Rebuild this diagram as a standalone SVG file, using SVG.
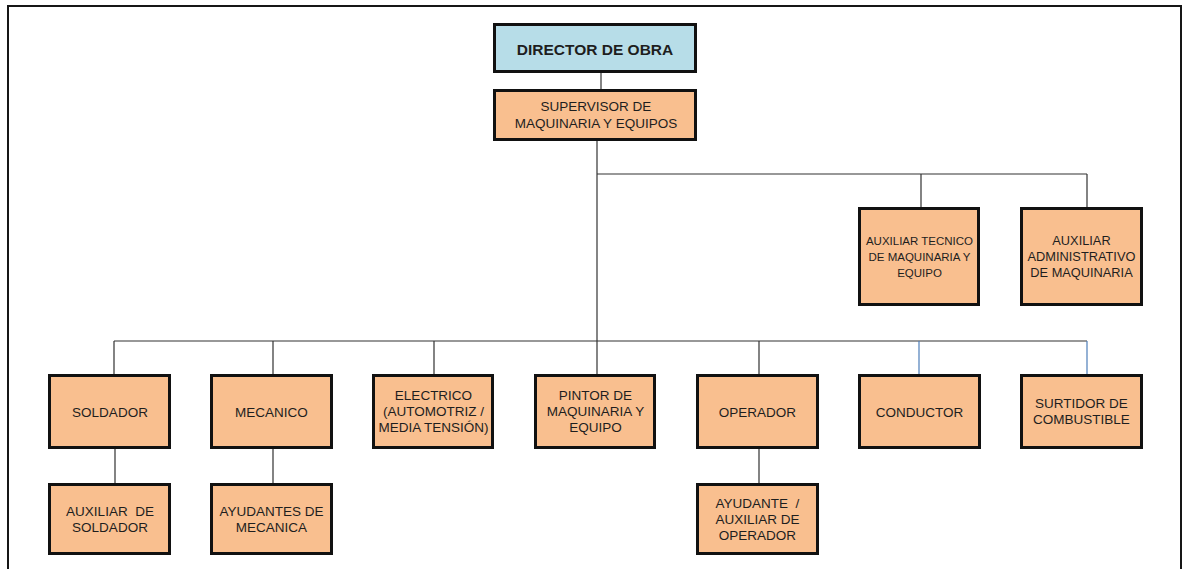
<svg xmlns="http://www.w3.org/2000/svg" width="1183" height="569" viewBox="0 0 1183 569">
  <style>
    .box { fill: #F9BF8F; stroke: #111; stroke-width: 3; }
    .head { fill: #B7DDE8; stroke: #111; stroke-width: 3; }
    .lbl { font-family: "Liberation Sans", Arial, sans-serif; font-size: 13.5px; fill: #1e1e1e; text-anchor: middle; }
    .sm { font-size: 11.5px; }
    .md { font-size: 12.8px; }
    .bold { font-weight: bold; font-size: 15.5px; }
    .ln { stroke: #333; stroke-width: 1.2; fill: none; }
    .blue { stroke: #4F7FBA; stroke-width: 1.2; fill: none; }
  </style>

  <rect width="1183" height="569" fill="#fff"/>
  <!-- page frame -->
  <path d="M8,569 V6 H1181 V569" fill="none" stroke="#161616" stroke-width="2"/>

  <g id="connectors">
    <path class="ln" d="M601,73 V89"/>
    <path class="ln" d="M597,141 V374"/>
    <path class="ln" d="M597,174 H1087 M921,174 V207 M1087,174 V207"/>
    <path class="ln" d="M114,341 H1087 M114,341 V374 M273,341 V374 M434,341 V374 M759,341 V374"/>
    <path class="blue" d="M919,341 V374 M1087,341 V374"/>
    <path class="ln" d="M115,449 V483 M273,449 V483 M759,449 V483"/>
  </g>

  <g id="director">
    <rect class="head" x="494.5" y="24.5" width="201" height="47"/>
    <text class="lbl bold" x="595" y="54.5">DIRECTOR DE OBRA</text>
  </g>
  <g id="supervisor">
    <rect class="box" x="494.5" y="90.5" width="201" height="49"/>
    <text class="lbl" x="596" y="111">SUPERVISOR DE</text>
    <text class="lbl" x="596" y="127.5">MAQUINARIA Y EQUIPOS</text>
  </g>
  <g id="aux-tecnico">
    <rect class="box" x="859.5" y="208.5" width="119" height="96"/>
    <text class="lbl sm" x="919.5" y="245">AUXILIAR TECNICO</text>
    <text class="lbl sm" x="919.5" y="261">DE MAQUINARIA Y</text>
    <text class="lbl sm" x="919.5" y="277">EQUIPO</text>
  </g>
  <g id="aux-administrativo">
    <rect class="box" x="1021.5" y="208.5" width="120" height="96"/>
    <text class="lbl md" x="1081.5" y="244.5">AUXILIAR</text>
    <text class="lbl md" x="1081.5" y="260.5">ADMINISTRATIVO</text>
    <text class="lbl md" x="1081.5" y="276.5">DE MAQUINARIA</text>
  </g>

  <g id="soldador">
    <rect class="box" x="49.5" y="375.5" width="120" height="72"/>
    <text class="lbl" x="110" y="416.5">SOLDADOR</text>
  </g>
  <g id="mecanico">
    <rect class="box" x="211.5" y="375.5" width="120" height="72"/>
    <text class="lbl" x="271.5" y="416.5">MECANICO</text>
  </g>
  <g id="electrico">
    <rect class="box" x="373.5" y="375.5" width="119" height="72"/>
    <text class="lbl" x="433.5" y="400">ELECTRICO</text>
    <text class="lbl" x="433.5" y="416">(AUTOMOTRIZ /</text>
    <text class="lbl" x="433.5" y="432">MEDIA TENSIÓN)</text>
  </g>
  <g id="pintor">
    <rect class="box" x="535.5" y="375.5" width="119" height="72"/>
    <text class="lbl" x="595.5" y="400">PINTOR DE</text>
    <text class="lbl" x="595.5" y="416">MAQUINARIA Y</text>
    <text class="lbl" x="595.5" y="432">EQUIPO</text>
  </g>
  <g id="operador">
    <rect class="box" x="697.5" y="375.5" width="120" height="72"/>
    <text class="lbl" x="757.5" y="416.5">OPERADOR</text>
  </g>
  <g id="conductor">
    <rect class="box" x="859.5" y="375.5" width="120" height="72"/>
    <text class="lbl" x="919.5" y="416.5">CONDUCTOR</text>
  </g>
  <g id="surtidor">
    <rect class="box" x="1021.5" y="375.5" width="120" height="72"/>
    <text class="lbl" x="1081.5" y="408">SURTIDOR DE</text>
    <text class="lbl" x="1081.5" y="424">COMBUSTIBLE</text>
  </g>

  <g id="aux-soldador">
    <rect class="box" x="49.5" y="484.5" width="120" height="69"/>
    <text class="lbl" x="110" y="516" xml:space="preserve">AUXILIAR  DE</text>
    <text class="lbl" x="110" y="532">SOLDADOR</text>
  </g>
  <g id="ayudantes-mecanica">
    <rect class="box" x="211.5" y="484.5" width="120" height="69"/>
    <text class="lbl" x="271.5" y="516">AYUDANTES DE</text>
    <text class="lbl" x="271.5" y="532">MECANICA</text>
  </g>
  <g id="ayudante-operador">
    <rect class="box" x="697.5" y="484.5" width="120" height="69"/>
    <text class="lbl" x="757.5" y="508" xml:space="preserve">AYUDANTE  /</text>
    <text class="lbl" x="757.5" y="524">AUXILIAR DE</text>
    <text class="lbl" x="757.5" y="540">OPERADOR</text>
  </g>
</svg>
